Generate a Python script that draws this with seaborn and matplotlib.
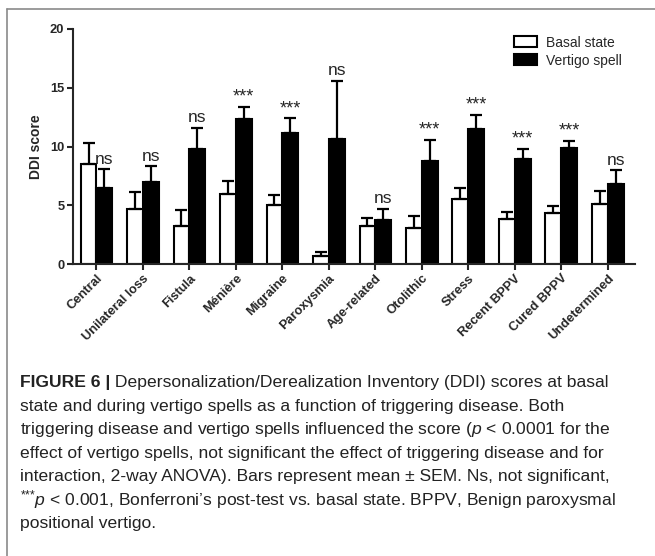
import numpy as np
import pandas as pd
import matplotlib
matplotlib.use("Agg")
import matplotlib.pyplot as plt
import seaborn as sns
from matplotlib.lines import Line2D
from matplotlib.patches import Patch

# Datos
categories = ["Central", "Unilateral loss", "Fistula", "Ménière", "Migraine", "Paroxysmia",
              "Age-related", "Otolithic", "Stress", "Recent BPPV", "Cured BPPV", "Undetermined"]
basal = [8.5, 4.7, 3.2, 5.95, 5.0, 0.65, 3.25, 3.05, 5.55, 3.8, 4.35, 5.1]
basal_sem = [1.8, 1.45, 1.4, 1.15, 0.85, 0.35, 0.7, 1.05, 0.95, 0.65, 0.55, 1.15]
vertigo = [6.5, 7.0, 9.75, 12.3, 11.15, 10.65, 3.75, 8.8, 11.45, 8.9, 9.85, 6.8]
vertigo_sem = [1.55, 1.35, 1.85, 1.05, 1.25, 4.95, 0.95, 1.75, 1.25, 0.9, 0.65, 1.2]
sig = ["ns", "ns", "ns", "***", "***", "ns", "ns", "***", "***", "***", "***", "ns"]
states = ["Basal state", "Vertigo spell"]

caption_lines = [
    "state and during vertigo spells as a function of triggering disease. Both",
    "triggering disease and vertigo spells influenced the score ($p$ < 0.0001 for the",
    "effect of vertigo spells, not significant the effect of triggering disease and for",
    "interaction, 2-way ANOVA). Bars represent mean ± SEM. Ns, not significant,",
    "$^{{*}{*}{*}}p$ < 0.001, Bonferroni’s post-test vs. basal state. BPPV, Benign paroxysmal",
    "positional vertigo.",
]

df = pd.DataFrame({
    "category": categories * 2,
    "state": [states[0]] * len(categories) + [states[1]] * len(categories),
    "score": basal + vertigo,
})

sns.set_style("ticks")
plt.rcParams["font.family"] = ["Liberation Sans", "DejaVu Sans"]
plt.rcParams["mathtext.fontset"] = "custom"
plt.rcParams["mathtext.rm"] = "Liberation Sans"
plt.rcParams["mathtext.it"] = "Liberation Sans:italic"

fig = plt.figure(figsize=(6.55, 5.56), dpi=100)
ax = fig.add_axes([0.111, 0.525, 0.858, 0.423])

sns.barplot(data=df, x="category", y="score", hue="state", order=categories,
            hue_order=states, palette=["white", "black"], edgecolor="black",
            linewidth=1.5, errorbar=None, width=0.68, ax=ax, legend=False)

# barras de error solo hacia arriba
x = np.arange(len(categories))
off = 0.17
ax.errorbar(x - off, basal, yerr=[np.zeros(len(basal)), basal_sem], fmt="none",
            ecolor="black", elinewidth=1.6, capsize=4, capthick=1.6, zorder=1)
ax.errorbar(x + off, vertigo, yerr=[np.zeros(len(vertigo)), vertigo_sem], fmt="none",
            ecolor="black", elinewidth=1.6, capsize=4, capthick=1.6, zorder=1)

for i, s in enumerate(sig):
    top = vertigo[i] + vertigo_sem[i]
    if s == "ns":
        ax.text(x[i] + off, top + 0.2, s, ha="center", va="bottom", fontsize=12.5)
    else:
        ax.text(x[i] + off, top + 0.1, s, ha="center", va="bottom", fontsize=13)

ax.set_xlim(-0.51, 11.58)
ax.set_ylim(0, 20)
ax.set_yticks([0, 5, 10, 15, 20])
ax.set_xlabel("")
ax.set_ylabel("DDI score", fontsize=10, fontweight="bold", labelpad=5)
ax.set_xticks(x)
ax.set_xticklabels(categories, rotation=45, ha="right", rotation_mode="anchor",
                   fontsize=9.3, fontweight="bold")
for lab in ax.get_yticklabels():
    lab.set_fontweight("bold")
    lab.set_fontsize(9.3)
ax.tick_params(axis="both", width=1.5, length=4, pad=2)
for sp in ["left", "bottom"]:
    ax.spines[sp].set_linewidth(1.5)
sns.despine(ax=ax)

handles = [Patch(facecolor="white", edgecolor="black", linewidth=1.5),
           Patch(facecolor="black", edgecolor="black", linewidth=1.5)]
ax.legend(handles, states, loc="upper right", bbox_to_anchor=(1.0, 1.025), frameon=False,
          fontsize=10, handlelength=1.6, handleheight=0.85, handletextpad=0.7,
          labelspacing=0.3)

# marco de la figura
fig.add_artist(Line2D([7 / 655, 1], [1 - 9 / 556, 1 - 9 / 556], color="#8a8a8a", lw=1.2))
fig.add_artist(Line2D([7 / 655, 7 / 655], [0, 1 - 9 / 556], color="#8a8a8a", lw=1.2))

# pie de figura
fs = 12.6
cap_kw = dict(fontsize=fs, color="#222222", va="center", ha="left")
y0 = 383
head = fig.text(20 / 655, 1 - y0 / 556, "FIGURE 6 |", fontweight="bold", **cap_kw)
plt.annotate(" Depersonalization/Derealization Inventory (DDI) scores at basal",
             xy=(1, 0.5), xycoords=head, va="center", ha="left",
             fontsize=fs, color="#222222", annotation_clip=False)
for k, line in enumerate(caption_lines):
    fig.text(20 / 655, 1 - (y0 + 23.4 * (k + 1)) / 556, line, **cap_kw)

fig.savefig("out.png", dpi=100)
